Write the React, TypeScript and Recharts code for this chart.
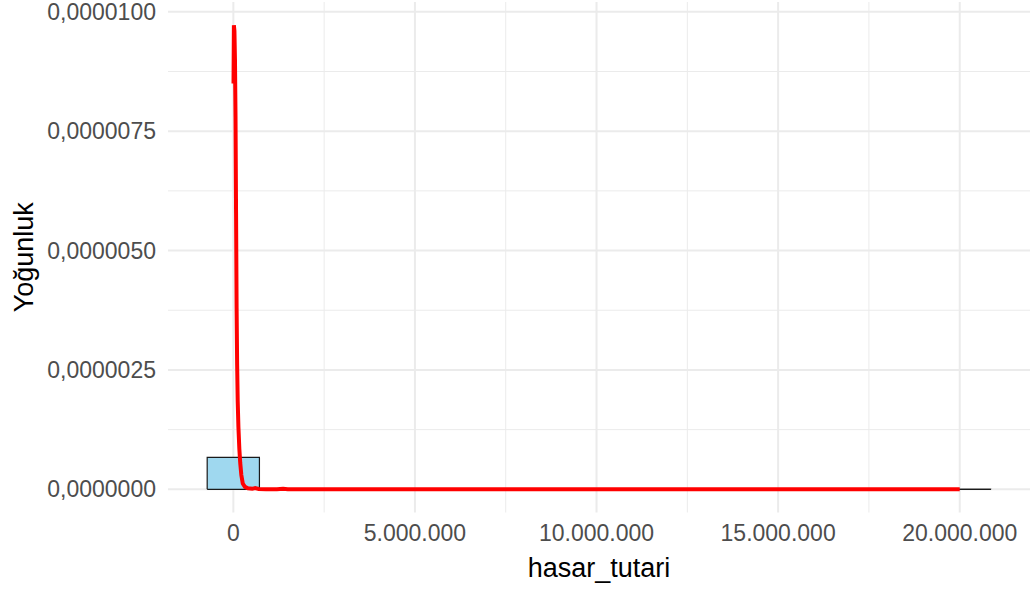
import React from 'react';
import { ComposedChart, Area, Line, XAxis, YAxis, CartesianGrid, Label } from 'recharts';

// Histogram bins (edges in currency units, densities)
const binStart = -720000;
const binWidth = 1438400;
const binDensities = [
  0.67e-6, 0.015e-6, 0.0012e-6, 0.0004e-6, 0.0002e-6, 0.0001e-6, 0.0001e-6,
  0, 0.0001e-6, 0, 0, 0, 0, 0, 0.0001e-6,
];

// Kernel density curve
const densX = [
  5000, 15000, 30000, 45000, 60000, 75000, 90000, 105000, 120000, 140000,
  165000, 190000, 220000, 260000, 320000, 400000, 520000, 600000, 700000,
  900000, 1200000, 1370000, 1500000, 2000000, 4000000, 8000000, 12000000,
  16000000, 20000000,
];
const densY = [
  8.5e-6, 9.72e-6, 9.6e-6, 9.0e-6, 7.8e-6, 5.8e-6, 3.8e-6, 2.6e-6, 1.85e-6,
  1.3e-6, 0.85e-6, 0.55e-6, 0.3e-6, 0.12e-6, 0.05e-6, 0.02e-6, 0.01e-6,
  0.025e-6, 0.005e-6, 0.003e-6, 0.002e-6, 0.012e-6, 0.003e-6, 0.001e-6,
  0.0003e-6, 0.0001e-6, 0, 0, 0,
];

const xTicks = [0, 5000000, 10000000, 15000000, 20000000];
const xMinor = [2500000, 7500000, 12500000, 17500000];
const yTicks = [0, 2.5e-6, 5e-6, 7.5e-6, 1e-5];
const yMinor = [1.25e-6, 3.75e-6, 6.25e-6, 8.75e-6];

const binEdges = binDensities.map((_, i) => binStart + i * binWidth);
const binEnd = binStart + binDensities.length * binWidth;

const histData = [
  { x: binStart, h: 0 },
  ...binDensities.map((d, i) => ({ x: binEdges[i], h: d })),
  { x: binEnd, h: 0 },
];
const baseData = [
  { x: binStart, h: 0 },
  { x: binEnd, h: 0 },
];
const densData = densX.map((x, i) => ({ x, d: densY[i] }));

const FONT = '"Liberation Sans", Arial, sans-serif';

const fmtX = (v: number) =>
  String(Math.round(v)).replace(/\B(?=(\d{3})+(?!\d))/g, '.');
const fmtY = (v: number) => v.toFixed(7).replace('.', ',');

export default function App() {
  return (
    <div style={{ position: 'absolute', left: 0, top: 0, background: '#fff' }}>
      <ComposedChart
        width={1035}
        height={590}
        margin={{ top: 2, right: 5, left: 0, bottom: 0 }}
        style={{ fontFamily: FONT }}
      >
        <CartesianGrid
          stroke="#ebebeb"
          strokeWidth={1}
          horizontalValues={yMinor}
          verticalValues={xMinor}
        />
        <CartesianGrid
          stroke="#ebebeb"
          strokeWidth={2}
          horizontalValues={yTicks}
          verticalValues={xTicks}
        />
        <XAxis
          type="number"
          dataKey="x"
          domain={[-1799000, 21935000]}
          allowDataOverflow
          ticks={xTicks}
          interval={0}
          tickFormatter={fmtX}
          axisLine={false}
          tickLine={false}
          tickSize={0}
          tickMargin={12}
          height={77.5}
          tick={{ fill: '#4d4d4d', fontSize: 23, fontFamily: FONT }}
        >
          <Label
            value="hasar_tutari"
            position="insideBottom"
            offset={13}
            style={{ fill: '#000', fontSize: 27, fontFamily: FONT }}
          />
        </XAxis>
        <YAxis
          type="number"
          domain={[-0.486e-6, 10.206e-6]}
          allowDataOverflow
          ticks={yTicks}
          interval={0}
          tickFormatter={fmtY}
          axisLine={false}
          tickLine={false}
          tickSize={0}
          tickMargin={12}
          width={168}
          tick={{ fill: '#4d4d4d', fontSize: 23, fontFamily: FONT }}
        >
          <Label
            value="Yoğunluk"
            angle={-90}
            position="insideLeft"
            offset={23}
            style={{ fill: '#000', fontSize: 27, fontFamily: FONT, textAnchor: 'middle' }}
          />
        </YAxis>
        <Area
          data={histData}
          dataKey="h"
          type="stepAfter"
          baseValue={0}
          fill="#9fd8ef"
          fillOpacity={1}
          stroke="#1a1a1a"
          strokeWidth={1.2}
          dot={false}
          activeDot={false}
          isAnimationActive={false}
        />
        <Line
          data={baseData}
          dataKey="h"
          type="linear"
          stroke="#1a1a1a"
          strokeWidth={1.2}
          dot={false}
          activeDot={false}
          isAnimationActive={false}
        />
        <Line
          data={densData}
          dataKey="d"
          type="linear"
          stroke="#ff0000"
          strokeWidth={4}
          dot={false}
          activeDot={false}
          isAnimationActive={false}
        />
      </ComposedChart>
    </div>
  );
}
